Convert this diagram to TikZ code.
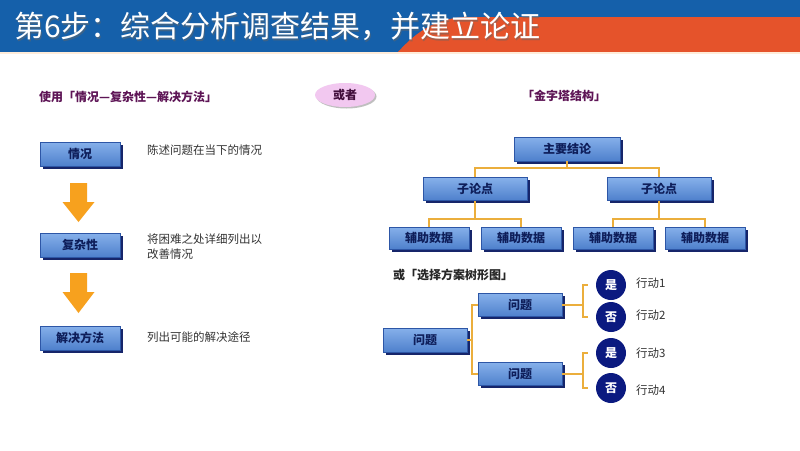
\documentclass[tikz,border=0pt]{standalone}
\usepackage{fontspec}
\newfontfamily\cjk{Noto Sans CJK SC}
\usetikzlibrary{shadows,shapes.geometric,calc}
\definecolor{hblue}{HTML}{1560AA}
\definecolor{horange}{HTML}{E5532B}
\definecolor{boxtop}{HTML}{86B0EA}
\definecolor{boxbot}{HTML}{4E80CC}
\definecolor{boxline}{HTML}{2D56A6}
\definecolor{boxshadow}{HTML}{16256A}
\definecolor{boxtext}{HTML}{0E1E5A}
\definecolor{arroworange}{HTML}{F7A11E}
\definecolor{linkgold}{HTML}{EBAE3C}
\definecolor{navy}{HTML}{0B1A80}
\definecolor{plum}{HTML}{5E1556}
\definecolor{pinkfill}{HTML}{F2C8F0}
\definecolor{desctext}{HTML}{333333}
\begin{document}
\begin{tikzpicture}[x=1pt,y=-1pt,font=\cjk,
  bbox/.style={draw=boxline, line width=0.6pt, top color=boxtop, bottom color=boxbot,
    text=boxtext, font=\cjk\bfseries\fontsize{12}{14}\selectfont, inner sep=0pt,
    drop shadow={shadow xshift=2.5pt, shadow yshift=-2.5pt, fill=boxshadow, opacity=1}},
  desc/.style={anchor=west, text=desctext, font=\cjk\fontsize{11.5}{15}\selectfont, align=left, inner sep=0pt},
  heading/.style={text=plum, font=\cjk\bfseries\fontsize{12}{14}\selectfont, inner sep=0pt},
  link/.style={draw=linkgold, line width=1.8pt},
  yesno/.style={circle, fill=navy, minimum size=30pt, inner sep=0pt, text=white, font=\cjk\bfseries\fontsize{12}{14}\selectfont},
  act/.style={anchor=west, text=desctext, font=\cjk\fontsize{11.5}{13}\selectfont, inner sep=0pt},
  bigarrow/.style={fill=arroworange}
]
\useasboundingbox (0,0) rectangle (800,450);
\fill[white] (0,0) rectangle (800,450);
% header
\fill[hblue] (0,0) rectangle (800,52);
\fill[horange] (398,52) .. controls (418,30) and (438,17) .. (470,17) -- (800,17) -- (800,52) -- cycle;
\fill[orange!15] (0,52) rectangle (800,54);
\node[anchor=west, text=black!60, opacity=0.5, font=\cjk\fontsize{30}{32}\selectfont, inner sep=0pt] at (15,28) {第6步：综合分析调查结果，并建立论证};
\node[anchor=west, text=white, font=\cjk\fontsize{30}{32}\selectfont, inner sep=0pt] (title) at (14,26.5) {第6步：综合分析调查结果，并建立论证};

% left column
\node[heading, anchor=west] (lhead) at (39,97) {使用「情况—复杂性—解决方法」};
\node[bbox, minimum width=80pt, minimum height=24pt] (s1) at (80,154) {情况};
\node[bbox, minimum width=80pt, minimum height=24pt] (s2) at (80,245) {复杂性};
\node[bbox, minimum width=80pt, minimum height=24pt] (s3) at (80,338) {解决方法};
\node[desc] (d1) at (147,150) {陈述问题在当下的情况};
\node[desc] (d2) at (147,247) {将困难之处详细列出以\\改善情况};
\node[desc] (d3) at (147,337) {列出可能的解决途径};
\fill[bigarrow] (70,183) -- (87,183) -- (87,202) -- (94.5,202) -- (78.5,222) -- (62.5,202) -- (70,202) -- cycle;
\fill[bigarrow] (70,273) -- (87,273) -- (87,292) -- (94.5,292) -- (78.5,313) -- (62.5,292) -- (70,292) -- cycle;

% or
\node[ellipse, fill=pinkfill, minimum width=60pt, minimum height=24pt, inner sep=0pt,
  text=plum!70!black, font=\cjk\bfseries\fontsize{12}{14}\selectfont,
  drop shadow={shadow xshift=1.5pt, shadow yshift=-1.5pt, fill=black!25, opacity=1}] (or) at (345,95) {或者};

% pyramid
\node[heading] (phead) at (564,96) {「金字塔结构」};
\node[bbox, minimum width=106pt, minimum height=24pt] (main) at (567,149) {主要结论};
\node[bbox, minimum width=104pt, minimum height=23pt] (sub1) at (475,189) {子论点};
\node[bbox, minimum width=104pt, minimum height=23pt] (sub2) at (659,189) {子论点};
\node[bbox, minimum width=80pt, minimum height=22pt] (dt1) at (429,238) {辅助数据};
\node[bbox, minimum width=80pt, minimum height=22pt] (dt2) at (521,238) {辅助数据};
\node[bbox, minimum width=80pt, minimum height=22pt] (dt3) at (613,238) {辅助数据};
\node[bbox, minimum width=80pt, minimum height=22pt] (dt4) at (705,238) {辅助数据};
\draw[link] (main.south) -- ++(0,7) -| (sub1.north);
\draw[link] (main.south) -- ++(0,7) -| (sub2.north);
\draw[link] (sub1.south) -- ++(0,18.5) -| (dt1.north);
\draw[link] (sub1.south) -- ++(0,18.5) -| (dt2.north);
\draw[link] (sub2.south) -- ++(0,18.5) -| (dt3.north);
\draw[link] (sub2.south) -- ++(0,18.5) -| (dt4.north);

% decision tree
\node[anchor=west, text=black!85, font=\cjk\bfseries\fontsize{12}{14}\selectfont, inner sep=0pt] (thead) at (393,275) {或「选择方案树形图」};
\node[bbox, minimum width=84pt, minimum height=24pt] (root) at (425,340) {问题};
\node[bbox, minimum width=84pt, minimum height=23pt] (m1) at (520,305) {问题};
\node[bbox, minimum width=84pt, minimum height=23pt] (m2) at (520,374) {问题};
\coordinate (j1) at ($(root.east)+(5,0)$);
\draw[link] (root.east) -- (j1);
\draw[link] (m1.west) -| (j1) |- (m2.west);
\node[yesno] (c1) at (611,285) {是};
\node[yesno] (c2) at (611,317) {否};
\node[yesno] (c3) at (611,353) {是};
\node[yesno] (c4) at (611,388) {否};
\coordinate (j2) at ($(m1.east)+(21,0)$);
\coordinate (j3) at ($(m2.east)+(21,0)$);
\draw[link] (m1.east) -- (j2);
\draw[link] ($(c1.west)+(-8,0)$) -| (j2) |- ($(c2.west)+(-8,0)$);
\draw[link] (m2.east) -- (j3);
\draw[link] ($(c3.west)+(-8,0)$) -| (j3) |- ($(c4.west)+(-8,0)$);
\node[act] (a1) at (636,283) {行动1};
\node[act] (a2) at (636,315) {行动2};
\node[act] (a3) at (636,353) {行动3};
\node[act] (a4) at (636,390) {行动4};
\end{tikzpicture}
\end{document}
